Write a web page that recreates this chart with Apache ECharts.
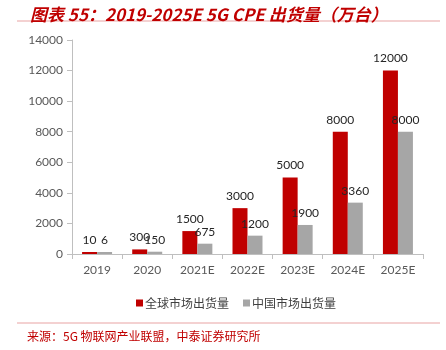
<!DOCTYPE html>
<html>
<head>
<meta charset="utf-8">
<script src="https://cdn.jsdelivr.net/npm/echarts@6/dist/echarts.min.js"></script>
<style>
  html, body { margin: 0; padding: 0; background: #fff; }
  #chart { width: 446px; height: 350px; }
</style>
</head>
<body>
<div id="chart"></div>
<script>
const categories = ['2019', '2020', '2021E', '2022E', '2023E', '2024E', '2025E']
const globalShipments = [10, 300, 1500, 3000, 5000, 8000, 12000]
const chinaShipments = [6, 150, 675, 1200, 1900, 3360, 8000]
const seriesNames = ['全球市场出货量', '中国市场出货量']

const RED = '#c00000'
const GRAY = '#a6a6a6'
const LINE = '#e8a3a3'
const cjk = '"Noto Sans CJK SC", "Noto Sans", sans-serif'
const num = 'Lato, "Liberation Sans", sans-serif'

const chart = echarts.init(document.getElementById('chart'))

const barLabel = {
  show: true,
  position: 'top',
  distance: 6,
  color: '#262626',
  fontSize: 12,
  fontFamily: num,
}

chart.setOption({
  animation: false,
  title: {
    text: '图表 55：2019-2025E 5G CPE 出货量（万台）',
    left: 25,
    top: 1,
    textStyle: {
      color: RED,
      fontSize: 17,
      fontWeight: 'bold',
      fontStyle: 'italic',
      fontFamily: cjk,
    },
  },
  graphic: [
    { type: 'line', shape: { x1: 17, y1: 21, x2: 440, y2: 21 }, style: { stroke: LINE, lineWidth: 1 } },
    { type: 'line', shape: { x1: 17, y1: 323, x2: 440, y2: 323 }, style: { stroke: LINE, lineWidth: 1 } },
    {
      type: 'text',
      left: 27,
      top: 330,
      style: {
        text: '来源：5G 物联网产业联盟，中泰证券研究所',
        fill: RED,
        font: '12px ' + cjk,
      },
    },
  ],
  legend: {
    top: 292,
    left: 131,
    itemWidth: 7,
    itemHeight: 7,
    itemGap: 14,
    icon: 'rect',
    textStyle: { color: '#404040', fontSize: 12, fontFamily: cjk, padding: [0, 0, 0, -3] },
    data: seriesNames,
  },
  grid: {
    left: 72,
    right: 23,
    top: 40,
    bottom: 96,
  },
  xAxis: {
    type: 'category',
    data: categories,
    axisLine: { lineStyle: { color: '#bfbfbf' } },
    axisTick: { show: true, length: 5, lineStyle: { color: '#bfbfbf' } },
    axisLabel: { color: '#595959', fontSize: 12, fontFamily: num, margin: 10 },
  },
  yAxis: {
    type: 'value',
    min: 0,
    max: 14000,
    interval: 2000,
    axisLine: { show: true, lineStyle: { color: '#bfbfbf' } },
    axisTick: { show: true, length: 5, lineStyle: { color: '#bfbfbf' } },
    splitLine: { show: false },
    axisLabel: {
      color: '#595959',
      fontSize: 12,
      fontFamily: num,
      margin: 9,
      formatter: (v) => String(v),
    },
  },
  series: [
    {
      name: seriesNames[0],
      type: 'bar',
      barWidth: 15,
      barGap: '0%',
      barMinHeight: 2,
      itemStyle: { color: RED },
      label: barLabel,
      data: globalShipments,
    },
    {
      name: seriesNames[1],
      type: 'bar',
      barWidth: 15,
      barMinHeight: 2,
      itemStyle: { color: GRAY },
      label: barLabel,
      data: chinaShipments,
    },
  ],
})
</script>
</body>
</html>
